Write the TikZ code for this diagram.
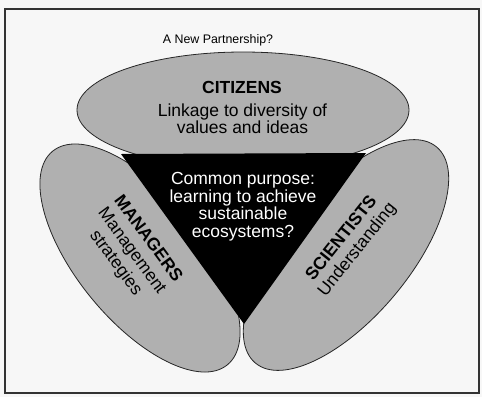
\documentclass[tikz,border=0pt]{standalone}
\usepackage{fontspec}
\setmainfont{Liberation Sans}
\begin{document}
\begin{tikzpicture}[x=1pt,y=-1pt,
  lobe/.style={draw=black!85, line width=0.8pt, fill=black!31},
  big/.style={font=\fontsize{17.5}{19}\selectfont, inner sep=0pt, anchor=base},
  bigb/.style={big, font=\fontsize{17.5}{19}\selectfont\bfseries},
  small/.style={font=\fontsize{12.4}{14}\selectfont, inner sep=0pt, anchor=base},
  inner/.style={big, text=white}]
\useasboundingbox (0,0) rectangle (482,397);
% page and frame
\fill[black!3] (0,0) rectangle (482,397);
\draw[line width=1.2pt, black!80] (5,9) rectangle (479,393);

% heading
\node[small] (title) at (218,43) {A New Partnership?};

% the two lower lobes, then the upper lobe over them
\draw[lobe, rotate around={-50.7:(140,258)}] (140,258) ellipse [x radius=138, y radius=63];
\draw[lobe, rotate around={50:(346,255)}] (346,255) ellipse [x radius=141, y radius=63];
\draw[lobe] (243,110) ellipse [x radius=166, y radius=58];

% central triangle
\coordinate (tl) at (121,154);
\coordinate (tr) at (366,153);
\coordinate (bt) at (244,324);
\fill[black] (tl) -- (tr) -- (bt) -- cycle;

% citizens
\node[bigb] (cit) at (242,93.3) {CITIZENS};
\node[big] (cit1) at (242.5,116.7) {Linkage to diversity of};
\node[big] (cit2) at (242.5,133.3) {values and ideas};

% common purpose
\node[inner] (cp1) at (243,184.5) {Common purpose:};
\node[inner] (cp2) at (243,202.1) {learning to achieve};
\node[inner] (cp3) at (243,219.7) {sustainable};
\node[inner] (cp4) at (243,237.3) {ecosystems?};

% managers
\node[bigb, rotate=-53.5] (man) at (144.1,241.8) {MANAGERS};
\node[big, rotate=-53.5] (man1) at (128.0,253.7) {Management};
\node[big, rotate=-53.5] (man2) at (111.9,265.6) {strategies};

% scientists
\node[bigb, rotate=51.5] (sci) at (345.4,241.4) {SCIENTISTS};
\node[big, rotate=51.5] (sci1) at (361,252.8) {Understanding};
\end{tikzpicture}
\end{document}
